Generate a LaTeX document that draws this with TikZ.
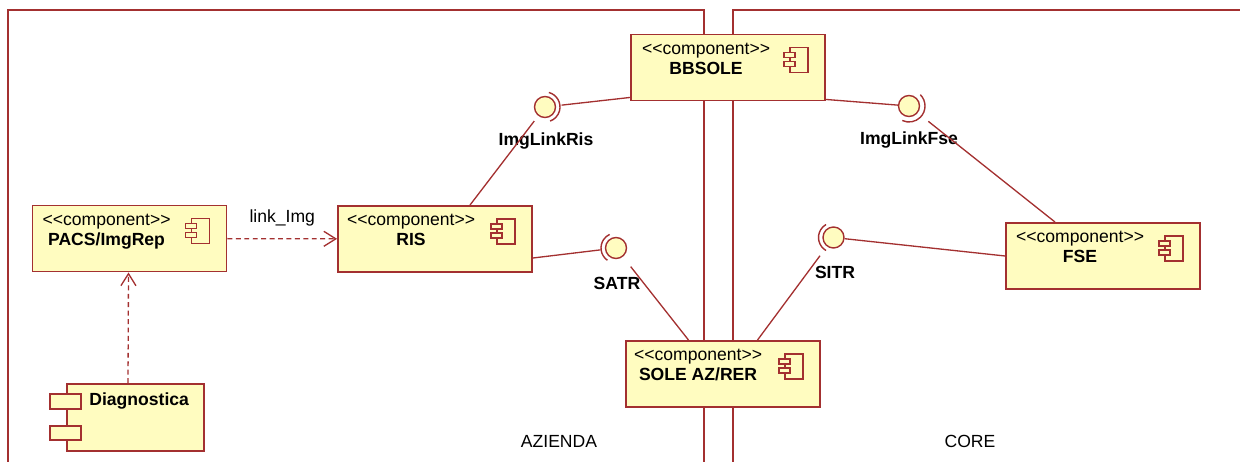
\documentclass[tikz,border=0pt]{standalone}
\usepackage{fontspec}
\setmainfont{Liberation Sans}
\usetikzlibrary{calc,arrows.meta}

\definecolor{umlred}{RGB}{163,48,48}
\definecolor{umlfill}{RGB}{255,252,192}

\newcommand{\stereo}{<\kern0pt<component>\kern0pt>}

\tikzset{
  comp/.style={rectangle, draw=umlred, fill=umlfill, line width=1.1pt, inner sep=0pt,
    minimum width=3.88cm, minimum height=1.32cm},
  comptext/.style={anchor=north, align=center, inner sep=0pt,
    font=\fontsize{10}{11.5}\selectfont},
  ball/.style={circle, draw=umlred, fill=umlfill, line width=0.8pt, inner sep=0pt,
    minimum size=0.42cm},
  socket/.style={draw=umlred, line width=0.8pt},
  conn/.style={draw=umlred, line width=0.75pt},
  dep/.style={draw=umlred, line width=0.75pt, dash pattern=on 2.8pt off 2pt,
    -{Straight Barb[length=0.24cm,width=0.3cm]}},
  iflabel/.style={font=\fontsize{10}{12}\selectfont\bfseries, inner sep=0pt},
  pkglabel/.style={font=\fontsize{10}{12}\selectfont, inner sep=0pt},
  frame/.style={draw=umlred, line width=1.1pt},
  pics/compicon/.style={code={
    \draw[draw=umlred, fill=umlfill, line width=0.7pt] (-36,14) rectangle (-18,39);
    \draw[draw=umlred, fill=umlfill, line width=0.7pt] (-42,19) rectangle (-31,24);
    \draw[draw=umlred, fill=umlfill, line width=0.7pt] (-42,28) rectangle (-31,33);
  }}
}

\begin{document}
\begin{tikzpicture}[x=0.02cm, y=-0.02cm]
  \useasboundingbox (0,0) rectangle (1240,462);

  % packages
  \draw[frame] (8,462) -- (8,10) -- (704,10) -- (704,462);
  \draw[frame] (733,462) -- (733,10) -- (1240,10);
  \node[pkglabel] (azienda) at (559,441) {AZIENDA};
  \node[pkglabel] (core) at (970,441) {CORE};

  % components
  \node[comp] (bbsole) at (728,67.5) {};
  \node[comp] (pacs) at (129.5,238.5) {};
  \node[comp] (ris) at (435,239) {};
  \node[comp] (fse) at (1103,256) {};
  \node[comp] (sole) at (723,374) {};

  \node[comptext] (bbsole-t) at ($(bbsole.north west)+(76,9)$) {\stereo\\\textbf{BBSOLE}};
  \node[comptext] (pacs-t) at ($(pacs.north west)+(75,9)$) {\stereo\\\textbf{PACS/ImgRep}};
  \node[comptext] (ris-t) at ($(ris.north west)+(74,9)$) {\stereo\\\textbf{RIS}};
  \node[comptext] (fse-t) at ($(fse.north west)+(75,9)$) {\stereo\\\textbf{FSE}};
  \node[comptext] (sole-t) at ($(sole.north west)+(73,9)$) {\stereo\\\textbf{SOLE AZ/RER}};

  \pic at (bbsole.north east) {compicon};
  \pic at (pacs.north east) {compicon};
  \pic at (ris.north east) {compicon};
  \pic at (fse.north east) {compicon};
  \pic at (sole.north east) {compicon};

  % Diagnostica
  \node[comp, minimum width=2.74cm, minimum height=1.34cm] (diag) at (135.5,417.5) {};
  \draw[draw=umlred, fill=umlfill, line width=1.1pt]
    ($(diag.north west)+(-16,11)$) rectangle ($(diag.north west)+(15,26)$);
  \draw[draw=umlred, fill=umlfill, line width=1.1pt]
    ($(diag.north west)+(-16,43)$) rectangle ($(diag.north west)+(15,57)$);
  \node[iflabel, anchor=west] (diag-t) at ($(diag.north west)+(23,18)$) {Diagnostica};

  % interfaces
  \node[ball] (imglinkris) at (545,107) {};
  \node[ball] (imglinkfse) at (909,106) {};
  \node[ball] (satr) at (616,248) {};
  \node[ball] (sitr) at (833.5,237.5) {};

  \draw[socket] (imglinkris) ++(-75:15) arc[start angle=-75, end angle=70, radius=15];
  \draw[socket] (imglinkfse) ++(-45:16) arc[start angle=-45, end angle=115, radius=16];
  \draw[socket] (satr) ++(125:15) arc[start angle=125, end angle=245, radius=15];
  \draw[socket] (sitr) ++(120:15) arc[start angle=120, end angle=240, radius=15];

  \node[iflabel] (imglinkris-l) at (546,141) {ImgLinkRis};
  \node[iflabel] (imglinkfse-l) at (909,140) {ImgLinkFse};
  \node[iflabel] (satr-l) at (617,283) {SATR};
  \node[iflabel] (sitr-l) at (835,272) {SITR};

  % connectors
  \draw[conn, shorten >=0.11cm] ($(bbsole.south west)+(0,-4)$) -- (imglinkris);
  \draw[conn, shorten <=0.13cm] (imglinkris) -- ($(ris.north)+(35,0)$);
  \draw[conn] ($(bbsole.south east)+(0,-2)$) -- (imglinkfse);
  \draw[conn, shorten <=0.27cm] (imglinkfse) -- ($(fse.north)+(-48,0)$);
  \draw[conn, shorten >=0.09cm] ($(ris.east)+(0,19)$) -- (satr);
  \draw[conn, shorten <=0.25cm] (satr) -- ($(sole.north)+(-34.5,0)$);
  \draw[conn] (sitr) -- (fse.west);
  \draw[conn, shorten <=0.23cm] (sitr) -- ($(sole.north)+(34.5,0)$);

  % dependencies
  \draw[dep] (pacs) -- node[pkglabel, midway, yshift=0.42cm] (linkimg) {link\_Img} (ris);
  \draw[dep] ($(diag.north)+(-7.5,0)$) -- ($(pacs.south)+(-1,0)$);

\end{tikzpicture}
\end{document}
